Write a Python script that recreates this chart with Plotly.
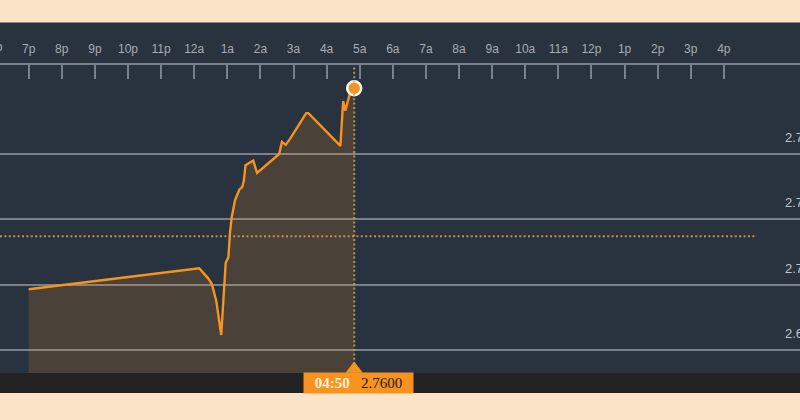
from datetime import datetime, timedelta
import plotly.graph_objects as go

# session runs from 7p one evening to 5p the next day
SESSION_DAY = "2024-01-01"
SESSION_START = "19:00"
SESSION_END = "17:00"

# intraday prices
TIMES = [
    "19:00", "00:09", "00:25", "00:32", "00:40", "00:49", "00:57", "01:02",
    "01:05", "01:08", "01:14", "01:22", "01:27", "01:30", "01:33", "01:41",
    "01:47", "01:54", "02:14", "02:34", "02:39", "02:46", "02:54", "03:23",
    "03:27", "04:25", "04:30", "04:34", "04:40", "04:42", "04:50",
]
PRICES = [
    2.6986, 2.7050, 2.7020, 2.7002, 2.6950, 2.6846, 2.7066, 2.7084,
    2.7161, 2.7206, 2.7258, 2.7291, 2.7298, 2.7317, 2.7365, 2.7373,
    2.7379, 2.7341, 2.7369, 2.7399, 2.7436, 2.7427, 2.7446, 2.7524,
    2.7524, 2.7424, 2.7561, 2.7531, 2.7570, 2.7583, 2.7600,
]
PREV_CLOSE = 2.7148

HOUR_TICKS = [
    "19:00", "20:00", "21:00", "22:00", "23:00", "00:00", "01:00", "02:00",
    "03:00", "04:00", "05:00", "06:00", "07:00", "08:00", "09:00", "10:00",
    "11:00", "12:00", "13:00", "14:00", "15:00", "16:00",
]
HOUR_LABELS = [
    "7p", "8p", "9p", "10p", "11p", "12a", "1a", "2a", "3a", "4a", "5a",
    "6a", "7a", "8a", "9a", "10a", "11a", "12p", "1p", "2p", "3p", "4p",
]
PRICE_TICKS = [2.68, 2.70, 2.72, 2.74]

ORANGE = "#f7931e"
BG = "#29323f"
PEACH = "#fae3c6"
GRID = "rgba(190,193,198,0.55)"
TEXT = "#a8acb2"


def to_dt(hhmm):
    # anything before the evening open belongs to the next day
    t = datetime.fromisoformat(f"{SESSION_DAY} {hhmm}")
    if hhmm < SESSION_START:
        t += timedelta(days=1)
    return t


xs = [to_dt(t) for t in TIMES]
start = to_dt(SESSION_START)
x_range = [start - timedelta(minutes=52), start + timedelta(hours=23, minutes=18)]
y_range = [2.6730, 2.7671]

fig = go.Figure()

fig.add_trace(go.Scatter(
    x=xs, y=PRICES, mode="lines",
    line=dict(color=ORANGE, width=2.4),
    fill="tozeroy", fillcolor="rgba(247,147,30,0.16)",
    hoverinfo="skip",
))

# previous close
fig.add_trace(go.Scatter(
    x=[x_range[0], to_dt(SESSION_END)], y=[PREV_CLOSE, PREV_CLOSE], mode="lines",
    line=dict(color="rgba(214,160,80,0.85)", width=2, dash="2px,2.4px"),
    hoverinfo="skip",
))

# little pointer under the crosshair
fig.add_trace(go.Scatter(
    x=[xs[-1]], y=[y_range[0] + 0.0012], mode="markers",
    marker=dict(symbol="triangle-up", size=15, color=ORANGE, line=dict(width=0)),
    cliponaxis=False, hoverinfo="skip",
))

# last price dot
fig.add_trace(go.Scatter(
    x=[xs[-1]], y=[PRICES[-1]], mode="markers",
    marker=dict(size=14, color=ORANGE, line=dict(color="white", width=2.5)),
    cliponaxis=False, hoverinfo="skip",
))

fig.add_shape(type="line", xref="x", yref="paper", x0=xs[-1], x1=xs[-1], y0=0, y1=1,
              line=dict(color="rgba(214,160,80,0.85)", width=2, dash="2px,2.4px"))

# dark header strip and footer bar
fig.add_shape(type="rect", xref="paper", yref="paper", x0=0, x1=1, y0=1, y1=1.138,
              fillcolor=BG, line_width=0, layer="below")
fig.add_shape(type="rect", xref="paper", yref="paper", x0=0, x1=1, y0=-0.065, y1=0,
              fillcolor="#232323", line_width=0, layer="below")

for v in PRICE_TICKS:
    fig.add_annotation(x=783 / 800, xref="paper", xanchor="left", y=v, yref="y",
                       yanchor="bottom", yshift=7, text=f"{v:.2f}", showarrow=False,
                       font=dict(family="Liberation Sans", size=13, color="#c2c5ca"))

fig.add_annotation(x=-4.4 / 800, xref="paper", xanchor="center", y=1, yref="paper",
                   yanchor="bottom", yshift=9, text="6p", showarrow=False,
                   font=dict(family="Liberation Sans", size=12, color=TEXT))

fig.add_annotation(
    x=xs[-1], xref="x", xanchor="center", y=-0.0325, yref="paper", yanchor="middle",
    xshift=4,
    text=(f"<b><span style='color:#fdf1da'>{TIMES[-1]}</span></b>   "
          f"<span style='color:#1c1c1c'>{PRICES[-1]:.4f}</span>"),
    showarrow=False, bgcolor=ORANGE, width=109, height=20, borderpad=0,
    font=dict(family="Liberation Serif", size=15),
)

fig.update_xaxes(
    type="date", range=x_range, side="top",
    tickvals=[to_dt(t) for t in HOUR_TICKS], ticktext=HOUR_LABELS,
    ticks="inside", ticklen=14, tickwidth=1.5, tickcolor=GRID,
    showline=True, linecolor=GRID, linewidth=1.5,
    showgrid=False, zeroline=False,
    tickfont=dict(family="Liberation Sans", size=12, color=TEXT),
    ticklabelstandoff=5,
)
fig.update_yaxes(
    range=y_range, tickvals=PRICE_TICKS, showticklabels=False,
    showgrid=True, gridcolor=GRID, gridwidth=1.5, zeroline=False,
)

fig.update_layout(
    width=800, height=420,
    margin=dict(l=0, r=0, t=65, b=47),
    paper_bgcolor=PEACH, plot_bgcolor=BG,
    showlegend=False,
)

fig.write_html("out.html", config={"displayModeBar": False},
               post_script="document.body.style.margin='0';")
